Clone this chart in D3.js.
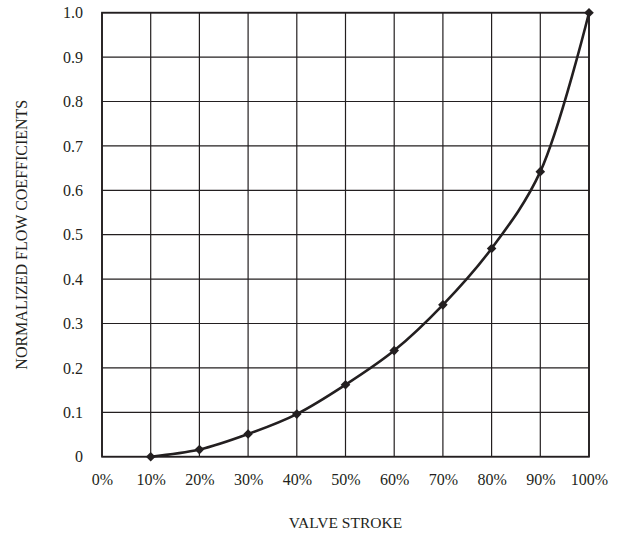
<!DOCTYPE html>
<html>
<head>
<meta charset="utf-8">
<script src="https://cdn.jsdelivr.net/npm/d3@7"></script>
<style>
  body { margin: 0; background: #fff; }
  text { font-family: "Liberation Serif", "Times New Roman", serif; fill: #231f20; }
</style>
</head>
<body>
<div id="chart"></div>
<script>
// valve stroke (%) and normalized flow coefficient
const strokes = [10, 20, 30, 40, 50, 60, 70, 80, 90, 100];
const flow = [0, 0.016, 0.051, 0.096, 0.162, 0.239, 0.342, 0.469, 0.642, 1.0];
const xTicks = [0, 10, 20, 30, 40, 50, 60, 70, 80, 90, 100];
const yTicks = [0, 0.1, 0.2, 0.3, 0.4, 0.5, 0.6, 0.7, 0.8, 0.9, 1.0];

const width = 617, height = 533;
const plotL = 102, plotR = 589, plotT = 12.7, plotB = 456.7;
const ink = "#231f20";

const svg = d3.select("#chart").append("svg")
    .attr("width", width)
    .attr("height", height);

const x = d3.scaleLinear().domain([0, 100]).range([plotL, plotR]);
const y = d3.scaleLinear().domain([0, 1]).range([plotB, plotT]);

// grid
svg.append("g").selectAll("line")
    .data(xTicks)
    .enter().append("line")
    .attr("x1", d => x(d)).attr("x2", d => x(d))
    .attr("y1", plotT).attr("y2", plotB)
    .style("stroke", ink).style("stroke-width", 1.2);

svg.append("g").selectAll("line")
    .data(yTicks)
    .enter().append("line")
    .attr("x1", plotL).attr("x2", plotR)
    .attr("y1", d => y(d)).attr("y2", d => y(d))
    .style("stroke", ink).style("stroke-width", 1.2);

// frame
svg.append("rect")
    .attr("x", plotL).attr("y", plotT)
    .attr("width", plotR - plotL).attr("height", plotB - plotT)
    .style("fill", "none").style("stroke", ink).style("stroke-width", 1.8);

// axes labels
const xAxis = svg.append("g")
    .attr("transform", `translate(0,${plotB})`)
    .call(d3.axisBottom(x).tickValues(xTicks).tickSize(0).tickPadding(0).tickFormat(d => d + "%"));
xAxis.select(".domain").remove();
xAxis.selectAll("text").attr("y", 28.5).attr("dy", null).style("font-size", "16px")
    .style("font-family", '"Liberation Serif", serif').style("fill", ink);

const yAxis = svg.append("g")
    .attr("transform", `translate(${plotL},0)`)
    .call(d3.axisLeft(y).tickValues(yTicks).tickSize(0).tickPadding(19)
      .tickFormat(d => d === 0 ? "0" : d3.format(".1f")(d)));
yAxis.select(".domain").remove();
yAxis.selectAll("text").style("font-size", "16px")
    .style("font-family", '"Liberation Serif", serif').style("fill", ink);

// curve
const pts = strokes.map((s, i) => [s, flow[i]]);
const line = d3.line()
    .x(d => x(d[0]))
    .y(d => y(d[1]))
    .curve(d3.curveCatmullRom.alpha(0.5));

svg.append("path")
    .datum(pts)
    .attr("d", line)
    .style("fill", "none")
    .style("stroke", ink)
    .style("stroke-width", 2.6);

// diamond markers
svg.selectAll(".pt")
    .data(pts)
    .enter().append("path")
    .attr("class", "pt")
    .attr("transform", d => `translate(${x(d[0])},${y(d[1])})`)
    .attr("d", "M0,-4.8L4.8,0L0,4.8L-4.8,0Z")
    .style("fill", ink);

// titles
svg.append("text")
    .attr("x", (plotL + plotR) / 2)
    .attr("y", 528)
    .attr("text-anchor", "middle")
    .style("font-size", "15.5px")
    .text("VALVE STROKE");

svg.append("text")
    .attr("transform", `translate(27,${(plotT + plotB) / 2}) rotate(-90)`)
    .attr("text-anchor", "middle")
    .style("font-size", "16px")
    .text("NORMALIZED FLOW COEFFICIENTS");
</script>
</body>
</html>
